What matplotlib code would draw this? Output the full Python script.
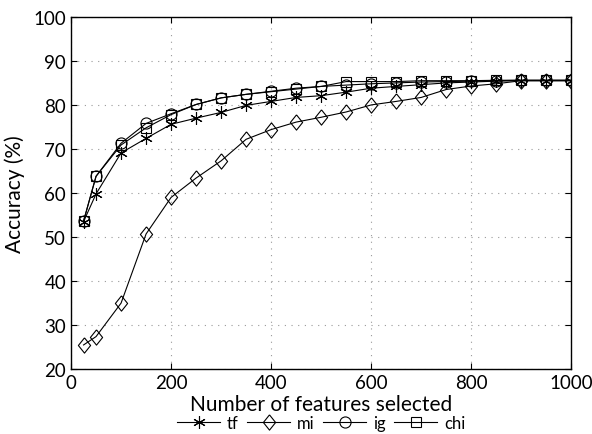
import numpy as np
import matplotlib
matplotlib.use('Agg')
import matplotlib.pyplot as plt

plt.rcParams['font.family'] = ['Lato', 'DejaVu Sans']

x = [25, 50, 100, 150, 200, 250, 300, 350, 400, 450, 500, 550, 600, 650,
     700, 750, 800, 850, 900, 950, 1000]
tf = [53.5, 59.8, 69.1, 72.4, 75.6, 77.0, 78.3, 79.9, 80.8, 81.7, 82.1, 82.9,
      83.8, 84.2, 84.6, 85.0, 85.2, 85.4, 85.5, 85.5, 85.5]
mi = [25.5, 27.4, 35.0, 50.7, 59.0, 63.4, 67.3, 72.2, 74.4, 76.1, 77.2, 78.4,
      80.0, 80.8, 81.7, 83.5, 84.3, 84.8, 85.5, 85.5, 85.5]
ig = [53.6, 63.8, 71.3, 75.8, 78.0, 80.1, 81.6, 82.4, 83.1, 83.8, 84.2, 84.5,
      84.8, 85.0, 85.2, 85.3, 85.4, 85.5, 85.6, 85.6, 85.6]
chi = [53.6, 63.8, 70.9, 74.8, 77.8, 80.1, 81.6, 82.4, 83.0, 83.6, 84.2, 85.3,
       85.3, 85.3, 85.5, 85.5, 85.5, 85.6, 85.6, 85.6, 85.6]

diamond = [(0, 1), (0.8, 0), (0, -1), (-0.8, 0), (0, 1)]

fig = plt.figure(figsize=(5.92, 4.35), dpi=100)
ax = fig.add_axes([0.12, 0.149, 0.845, 0.81])

kw = dict(color='black', lw=0.8, mfc='none', mec='black', mew=0.8)
ax.plot(x, tf, marker=(6, 2, 0), ms=9, label='tf', **kw)
ax.plot(x, mi, marker=diamond, ms=11, label='mi', **kw)
ax.plot(x, ig, marker='o', ms=8, label='ig', **kw)
ax.plot(x, chi, marker='s', ms=7, label='chi', **kw)

ax.set_xlim(0, 1000)
ax.set_ylim(20, 100)
ax.set_xticks(range(0, 1001, 200))
ax.set_yticks(range(20, 101, 10))
ax.grid(True, linestyle=(0, (1, 5)), color='#999999', lw=0.8)
ax.tick_params(direction='in', top=True, right=True, labelsize=13.5, length=4)
for s in ax.spines.values():
    s.set_linewidth(1.0)

ax.set_xlabel('Number of features selected', fontsize=15, labelpad=2)
ax.set_ylabel('Accuracy (%)', fontsize=15, labelpad=6)

ax.legend(loc='upper center', bbox_to_anchor=(0.5, -0.112), ncol=4,
          frameon=False, fontsize=12, handlelength=2.6, handletextpad=0.4,
          columnspacing=0.5, borderaxespad=0)

fig.savefig('out.png', dpi=100)
